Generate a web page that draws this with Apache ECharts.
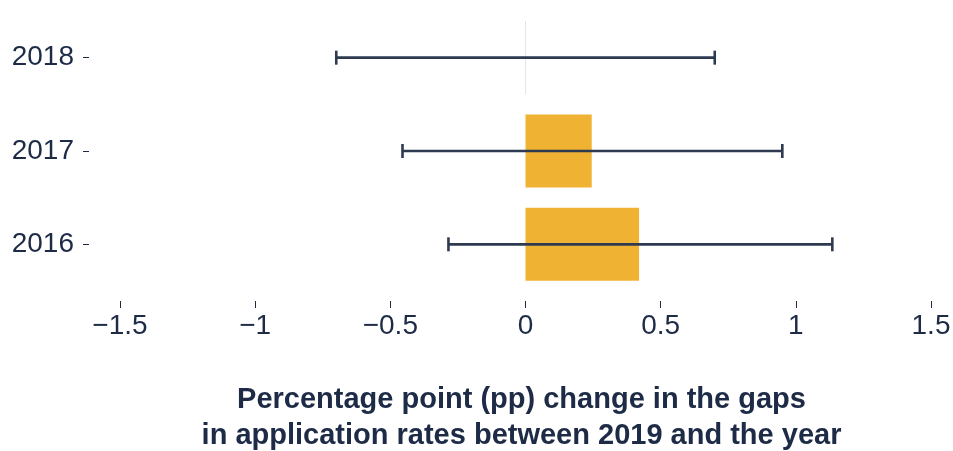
<!DOCTYPE html>
<html>
<head>
<meta charset="utf-8">
<script src="https://cdn.jsdelivr.net/npm/echarts@6/dist/echarts.min.js"></script>
<style>
  html, body { margin: 0; padding: 0; background: #ffffff; }
  #chart { width: 953px; height: 451px; }
</style>
</head>
<body>
<div id="chart"></div>
<script>
// Comparison years (bottom to top)
const years = ['2016', '2017', '2018'];
// Point estimate of the change in the gap (pp)
const changeValues = [0.42, 0.245, 0];
// Confidence interval bounds (pp)
const ciLow = [-0.285, -0.455, -0.70];
const ciHigh = [1.135, 0.95, 0.70];
// X axis ticks
const xTicks = [-1.5, -1, -0.5, 0, 0.5, 1, 1.5];

const navy = '#1d2b47';
const barColor = '#f0b232';
const whiskerColor = '#2e3a4f';
const font = 'Liberation Sans, Arial, sans-serif';

const chart = echarts.init(document.getElementById('chart'));

const ciData = years.map((y, i) => [i, ciLow[i], ciHigh[i]]);

chart.setOption({
  animation: false,
  backgroundColor: '#ffffff',
  grid: { left: 120, right: 22, top: 11, bottom: 160, containLabel: false, outerBoundsMode: 'none' },
  xAxis: {
    type: 'value',
    min: xTicks[0],
    max: xTicks[xTicks.length - 1],
    interval: 0.5,
    offset: 10,
    splitLine: { show: false },
    axisLine: { show: true, onZero: false, lineStyle: { opacity: 0 } },
    axisTick: { show: true, length: 7, lineStyle: { color: navy, width: 1 } },
    axisLabel: {
      margin: 11,
      fontFamily: font,
      fontSize: 28,
      color: navy,
      formatter: v => (v < 0 ? '\u2212' + Math.abs(v) : String(v))
    },
    name: 'Percentage point (pp) change in the gaps\nin application rates between 2019 and the year',
    nameLocation: 'middle',
    nameGap: 81,
    nameTextStyle: {
      fontFamily: font,
      fontSize: 29,
      fontWeight: 'bold',
      color: navy,
      lineHeight: 36,
      padding: [0, 8, 0, 0]
    }
  },
  yAxis: {
    type: 'category',
    data: years,
    offset: 31,
    axisLine: { show: true, onZero: false, lineStyle: { opacity: 0 } },
    axisTick: { show: true, length: 6, alignWithLabel: true, lineStyle: { color: navy, width: 1 } },
    axisLabel: {
      margin: 15,
      fontFamily: font,
      fontSize: 28,
      color: navy
    },
    splitLine: { show: false }
  },
  series: [
    {
      type: 'bar',
      data: changeValues.map(v => ({
        value: v,
        itemStyle: v === 0
          ? { color: barColor, borderColor: '#e2e5ee', borderWidth: 1 }
          : { color: barColor }
      })),
      barWidth: 73,
      itemStyle: { color: barColor },
      z: 2
    },
    {
      type: 'custom',
      data: ciData,
      encode: { x: [1, 2], y: 0 },
      z: 5,
      renderItem: function (params, api) {
        const cat = api.value(0);
        const lo = api.coord([api.value(1), cat]);
        const hi = api.coord([api.value(2), cat]);
        const cap = 7;
        const style = { stroke: whiskerColor, lineWidth: 2.6, fill: null };
        return {
          type: 'group',
          children: [
            { type: 'line', shape: { x1: lo[0], y1: lo[1], x2: hi[0], y2: hi[1] }, style: style },
            { type: 'line', shape: { x1: lo[0], y1: lo[1] - cap, x2: lo[0], y2: lo[1] + cap }, style: style },
            { type: 'line', shape: { x1: hi[0], y1: hi[1] - cap, x2: hi[0], y2: hi[1] + cap }, style: style }
          ]
        };
      }
    }
  ]
});
</script>
</body>
</html>
